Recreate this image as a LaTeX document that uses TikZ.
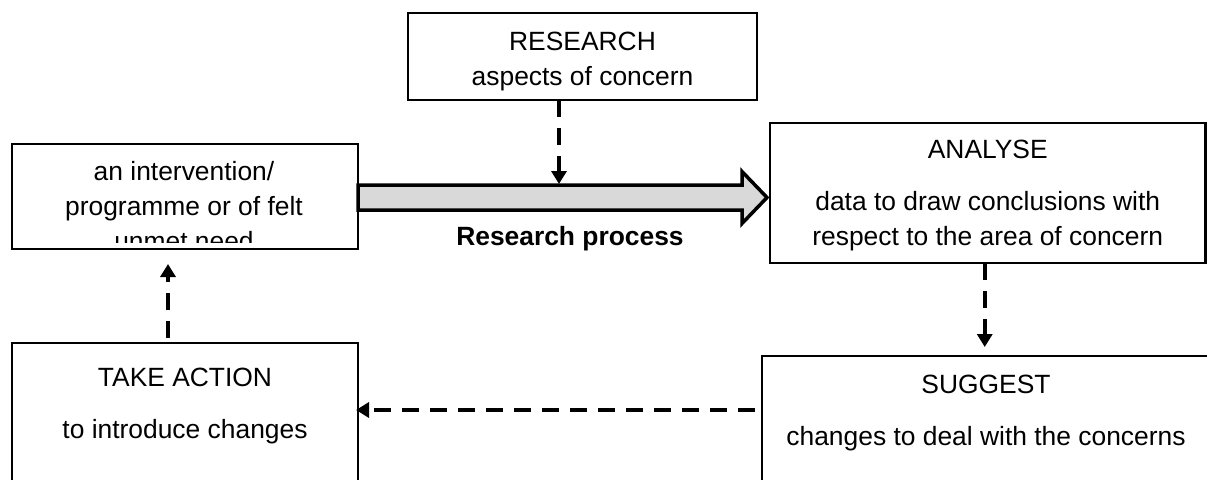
\documentclass[tikz,border=0pt]{standalone}
\usepackage{fontspec}
\setmainfont{Liberation Sans}
\usepackage{tikz}
\usetikzlibrary{arrows.meta, positioning, calc}

\newcommand{\stagefont}{\fontsize{13.2}{17.5}\selectfont}

\begin{document}
\begin{tikzpicture}[
        x=0.5pt, y=-0.5pt,
        stage/.style={rectangle, draw, line width=1.1pt, inner sep=0pt, outer sep=0pt, align=center, font=\stagefont},
        stagetext/.style={align=center, inner sep=0pt, font=\stagefont},
        dashflow/.style={-{Triangle[length=6.5pt, width=7.5pt]}, line width=1.75pt, dash pattern=on 8.5pt off 5.5pt},
        process/.style={draw, line width=1.75pt, fill=black!15, line join=miter}
    ]
    \path[use as bounding box] (0,0) rectangle (1207,479);
    \clip (0,0) rectangle (1207,479);

    % Stages of the cycle
    \node (research) [stage, minimum width=174.5pt, minimum height=43.5pt] at (582.5,56.5) {};
    \node (need) [stage, minimum width=173pt, minimum height=52.5pt] at (185,196.5) {};
    \node (analyse) [stage, minimum width=217.75pt, minimum height=70pt] at (987.75,193) {};
    \node (action) [stage, minimum width=173pt, minimum height=98.5pt, below=47pt of need] {};
    \node (suggest) [stage, minimum width=234pt, minimum height=92pt, anchor=north west] at (762,356) {};

    % Texts of the boxes
    \node (research text) [stagetext] at ($(research)+(0,5)$) {RESEARCH\\aspects of concern};
    \node (analyse text) [stagetext] at ($(analyse)+(0,3)$) {ANALYSE\\[8.5pt]data to draw conclusions with\\respect to the area of concern};
    \begin{scope}
        \clip (need.north west) rectangle ($(need.south east)+(0,-7)$);
        \node (need text) [stagetext] at (184,206) {an intervention/\\programme or of felt\\unmet need};
    \end{scope}
    \node (action text) [stagetext] at ($(action.north)+(0,63.5)$) {TAKE ACTION\\[8.5pt]to introduce changes};
    \node (suggest text) [stagetext] at ($(suggest.north west)+(224,57.5)$) {SUGGEST\\[8.5pt]changes to deal with the concerns};

    % Research process arrow
    \coordinate (rp tail) at (need.east);
    \coordinate (rp tip) at ($(need.east -| analyse.west)+(-3,1)$);
    \draw[process] ($(rp tail)+(0,-11.5)$) -- ($(rp tip)+(-25,-12.5)$) -- ($(rp tip)+(-25,-26)$) -- (rp tip)
        -- ($(rp tip)+(-25,26)$) -- ($(rp tip)+(-25,12.5)$) -- ($(rp tail)+(0,13.5)$) -- cycle;
    \node (rp label) [font=\stagefont\bfseries] at (570,239) {Research process};
    \coordinate (rp hit) at ($(research.south |- rp tail)+(-23.5,-12.5)$);

    % Dashed links
    \draw[dashflow] ($(research.south)+(-23.5,0)$) -- (rp hit);
    \draw[dashflow, shorten >=4.5pt] ($(analyse.south)+(-3,0)$) -- ($(analyse.south |- suggest.north)+(-3,0)$);
    \draw[dashflow, shorten <=3.5pt, shorten >=-1pt] ($(suggest.north west)+(0,54)$) -- ($(action.north east)+(0,67)$);
    \draw[dashflow, shorten <=2.5pt] ($(action.north)+(-17,0)$) -- ($(need.south)+(-17,15)$);

\end{tikzpicture}
\end{document}
